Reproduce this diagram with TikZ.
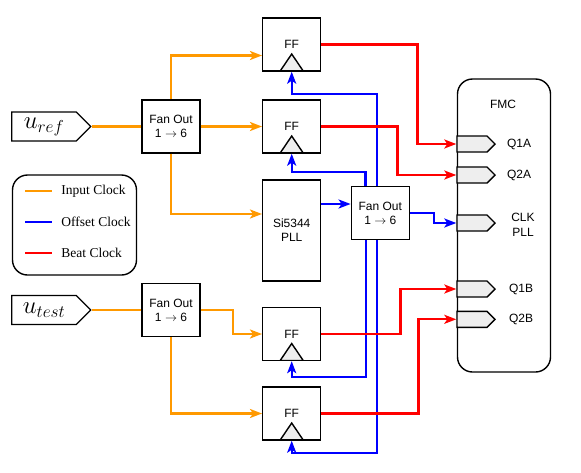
\documentclass[tikz,border=0pt]{standalone}
\usepackage{fontspec}
\setmainfont{Liberation Serif}
\setsansfont{Liberation Sans}
\usetikzlibrary{arrows.meta,shapes.symbols}

\definecolor{inclk}{RGB}{255,153,0}
\definecolor{offclk}{RGB}{0,0,255}
\definecolor{beatclk}{RGB}{255,0,0}
\definecolor{portgray}{RGB}{238,238,238}

\tikzset{
	ff/.style={path picture={
		\draw[line width=1.4pt,fill=portgray]
			([xshift=-11.5pt]path picture bounding box.south)
			-- ([yshift=17pt]path picture bounding box.south)
			-- ([xshift=11.5pt]path picture bounding box.south) -- cycle;}},
	port/.style={draw,line width=1.4pt,fill=portgray,shape=signal,signal to=east,
		signal pointer angle=90,minimum width=38pt,minimum height=16pt,inner sep=0pt},
	input/.style={draw=inclk,line width=2.2pt},
	offset/.style={draw=offclk,line width=2.2pt},
	beat/.style={draw=beatclk,line width=2.2pt}
}

\begin{document}
\begin{tikzpicture}[x=1pt,y=-1pt]
	\useasboundingbox (0,0) rectangle (581,472);

	% inputs
	\begin{scope}[every node/.style={draw,line width=1.4pt,fill=white,shape=signal,
		signal to=east,signal pointer angle=90,minimum width=79pt,minimum height=29pt,
		inner sep=0pt,font=\fontsize{24}{26}\selectfont}]
		\node (uref) at (44,126.5) {$u_{ref}$};
		\node (utest) at (44,310) {$u_{test}$};
	\end{scope}

	% blocks
	\begin{scope}[every node/.style={draw,line width=1.4pt,fill=white,inner sep=0pt,
		minimum width=58pt,minimum height=53pt,align=center,
		font=\sffamily\fontsize{12}{14}\selectfont}]
		\node (fanA) at (171,126.5) {Fan Out\\1 $\rightarrow$ 6};
		\node (fanC) at (171,310) {Fan Out\\1 $\rightarrow$ 6};
		\node (fanB) at (380.3,213) {Fan Out\\1 $\rightarrow$ 6};
		\node[ff] (FF1) at (291.7,44.5) {FF};
		\node[ff] (FF2) at (291.7,126.5) {FF};
		\node[ff] (FF3) at (291.7,334) {FF};
		\node[ff] (FF4) at (291.7,413.5) {FF};
		\node[minimum height=101pt] (PLL) at (291.7,230.5) {Si5344\\PLL};
	\end{scope}

	% FMC connector
	\node[draw,line width=1.4pt,rounded corners=15pt,minimum width=93pt,
		minimum height=293pt] (fmc) at (504,225.5) {};
	\begin{scope}[every node/.style={font=\sffamily\fontsize{12}{15}\selectfont,align=center}]
		\node (fmclabel) at (503,104) {FMC};
		\node[port] (q1a) at (472,144) {};
		\node[port] (q2a) at (472,175) {};
		\node[port] (clk) at (472,223) {};
		\node[port] (q1b) at (472,289) {};
		\node[port] (q2b) at (472,319.3) {};
		\node (q1alabel) at (519,144) {Q1A};
		\node (q2alabel) at (519,175) {Q2A};
		\node (clklabel) at (523,224.5) {CLK\\PLL};
		\node (q1blabel) at (521,289) {Q1B};
		\node (q2blabel) at (521,319.3) {Q2B};
	\end{scope}

	% legend
	\node[draw,line width=1.4pt,rounded corners=15pt,minimum width=124pt,
		minimum height=100pt] (legend) at (74.5,225) {};
	\begin{scope}[every node/.style={anchor=west,font=\fontsize{13.5}{15}\selectfont}]
		\draw[input] (25,191) -- (52,191) node[right=5pt] (inlabel) {Input Clock};
		\draw[offset] (25,222) -- (52,222) node[right=5pt] (offlabel) {Offset Clock};
		\draw[beat] (25,253) -- (52,253) node[right=5pt] (beatlabel) {Beat Clock};
	\end{scope}

	\begin{scope}[>={Stealth[length=12pt,width=9pt,inset=3pt]}]
		% input clock
		\draw[input] (uref.east) -- (fanA.west);
		\draw[input,->] (fanA.east) -- (FF2.west);
		\draw[input,->] (fanA.north) |- ([yshift=-11pt]FF1.west);
		\draw[input,->] (fanA.south) |- ([yshift=16.5pt]PLL.west);
		\draw[input] (utest.east) -- (fanC.west);
		\draw[input,->] (fanC.east) -- ++(32,0) |- (FF3.west);
		\draw[input,->] (fanC.south) |- (FF4.west);

		% offset clock
		\draw[offset,->] ([yshift=9pt]fanB.west -| PLL.east) -- ([yshift=9pt]fanB.west);
		\draw[offset,->] (fanB.east) -- ++(24,0) |- (clk.west);
		\draw[offset,->] ([xshift=-14.8pt]fanB.north) -- ++(0,-14) -| (FF2.south);
		\draw[offset,->] ([xshift=-3.3pt]fanB.north) -- ++(0,-92) -| (FF1.south);
		\draw[offset,->] ([xshift=-14.3pt]fanB.south) -- ++(0,137) -| (FF3.south);
		\draw[offset,->] ([xshift=-3.3pt]fanB.south) -- ++(0,213) -| (FF4.south);

		% beat clock
		\draw[beat,->] (FF1.east) -- ++(96,0) |- (q1a.west);
		\draw[beat,->] (FF2.east) -- ++(76,0) |- (q2a.west);
		\draw[beat,->] (FF3.east) -- ++(79,0) |- (q1b.west);
		\draw[beat,->] (FF4.east) -- ++(97,0) |- (q2b.west);
	\end{scope}
\end{tikzpicture}
\end{document}
